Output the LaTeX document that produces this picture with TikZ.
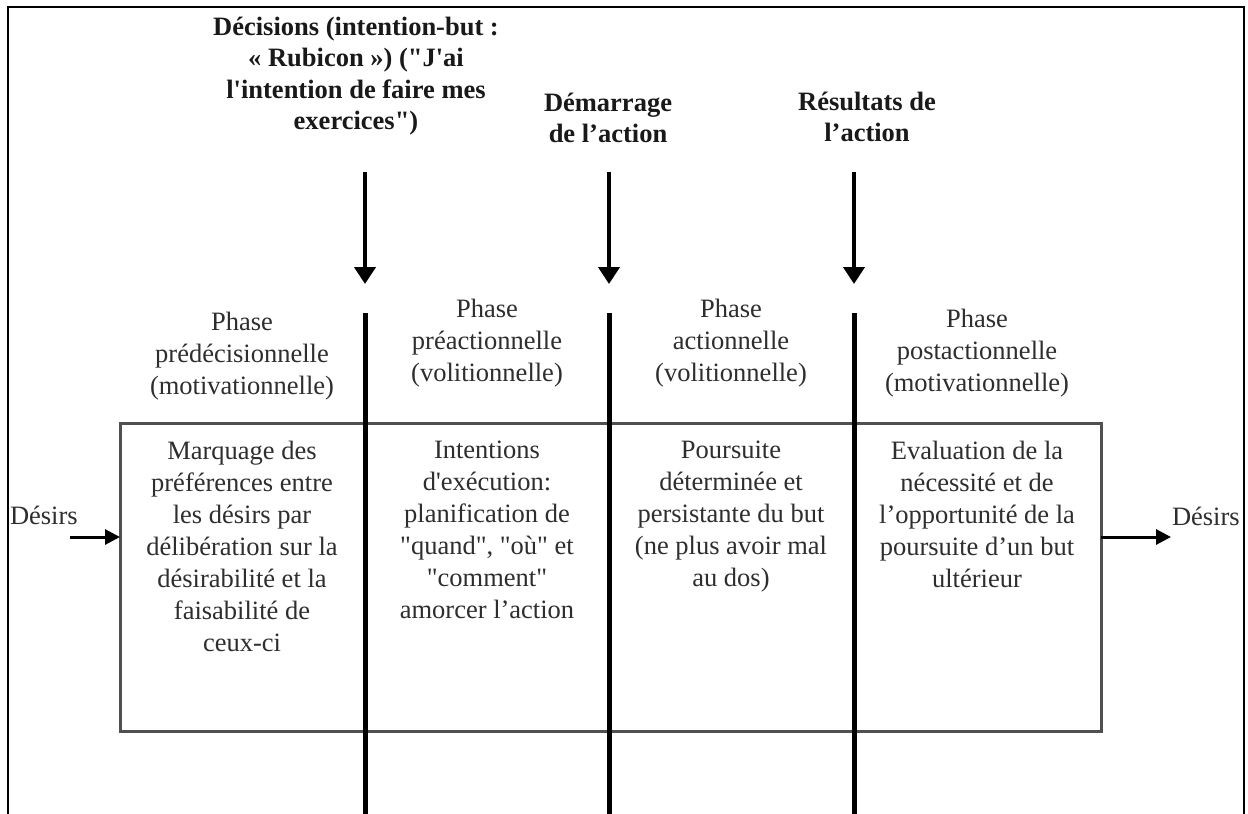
\documentclass[tikz,border=0pt]{standalone}
\usepackage{fontspec}
\setmainfont{Liberation Serif}
\usetikzlibrary{arrows.meta}
\definecolor{txt}{HTML}{2E2E2E}
\definecolor{boxline}{HTML}{505050}
\newcommand{\dq}{\textquotedbl}
\newcommand{\sq}{\textquotesingle}
\begin{document}
\begin{tikzpicture}[x=1pt,y=-1pt,
  every node/.style={inner sep=0pt, outer sep=0pt},
  body/.style={font=\fontsize{26.5}{32}\selectfont, text=txt, align=center, anchor=north},
  head/.style={font=\fontsize{26.5}{31.5}\selectfont\bfseries, text=black!90, align=center, anchor=north},
  cell/.style={body},
  divider/.style={line width=5pt, black},
  event/.style={line width=4pt, black, -{Triangle[width=21pt,length=17pt]}},
  flow/.style={line width=3pt, black, -{Triangle[width=15pt,length=15pt]}}]
\useasboundingbox (0,0) rectangle (1248,814);
\fill[white] (0,0) rectangle (1248,814);
% open frame
\draw[line width=2.5pt, black] (8,814) -- (8,7) -- (1244,7) -- (1244,814);

% main box holding the four phases
\node[draw=boxline, line width=3pt, minimum width=981pt, minimum height=308pt, anchor=north west] (box) at (120,423) {};

% phase boundaries
\coordinate (d1) at (365,313);
\coordinate (d2) at (609,313);
\coordinate (d3) at (854,313);
\draw[divider] (d1) -- (365,814);
\draw[divider] (d2) -- (609,814);
\draw[divider] (d3) -- (854,814);

% events marking the boundaries
\node[head] (decision) at (356,17) {Décisions (intention-but :\\« Rubicon ») (\dq J\sq ai\\l\sq intention de faire mes\\exercices\dq)};
\node[head] (start) at (608,93) {Démarrage\\de l’action};
\node[head] (result) at (867,92) {Résultats de\\l’action};
\coordinate (a1) at (365,172);
\coordinate (a2) at (609,172);
\coordinate (a3) at (854,172);
\draw[event] (a1) -- (365,284);
\draw[event] (a2) -- (609,284);
\draw[event] (a3) -- (854,284);

% phase names
\node[body] (p1) at (242,312) {Phase\\prédécisionnelle\\(motivationnelle)};
\node[body] (p2) at (487,299) {Phase\\préactionnelle\\(volitionnelle)};
\node[body] (p3) at (731,299) {Phase\\actionnelle\\(volitionnelle)};
\node[body] (p4) at (977,309) {Phase\\postactionnelle\\(motivationnelle)};

% phase contents
\node[cell] (c1) at (242,441) {Marquage des\\préférences entre\\les désirs par\\délibération sur la\\désirabilité et la\\faisabilité de\\ceux-ci};
\node[cell] (c2) at (487,441) {Intentions\\d\sq exécution:\\planification de\\\dq quand\dq, \dq où\dq{} et\\\dq comment\dq\\amorcer l’action};
\node[cell] (c3) at (731,441) {Poursuite\\déterminée et\\persistante du but\\(ne plus avoir mal\\au dos)};
\node[cell] (c4) at (977,441) {Evaluation de la\\nécessité et de\\l’opportunité de la\\poursuite d’un but\\ultérieur};

% desires in and out
\node[body, anchor=base west] (din) at (10,524) {Désirs};
\node[body, anchor=base west] (dout) at (1172,525) {Désirs};
\coordinate (inL) at (70,537);
\coordinate (outR) at (1171,537);
\draw[flow] (inL) -- (box.west |- inL);
\draw[flow] (box.east |- outR) -- (outR);
\end{tikzpicture}
\end{document}
